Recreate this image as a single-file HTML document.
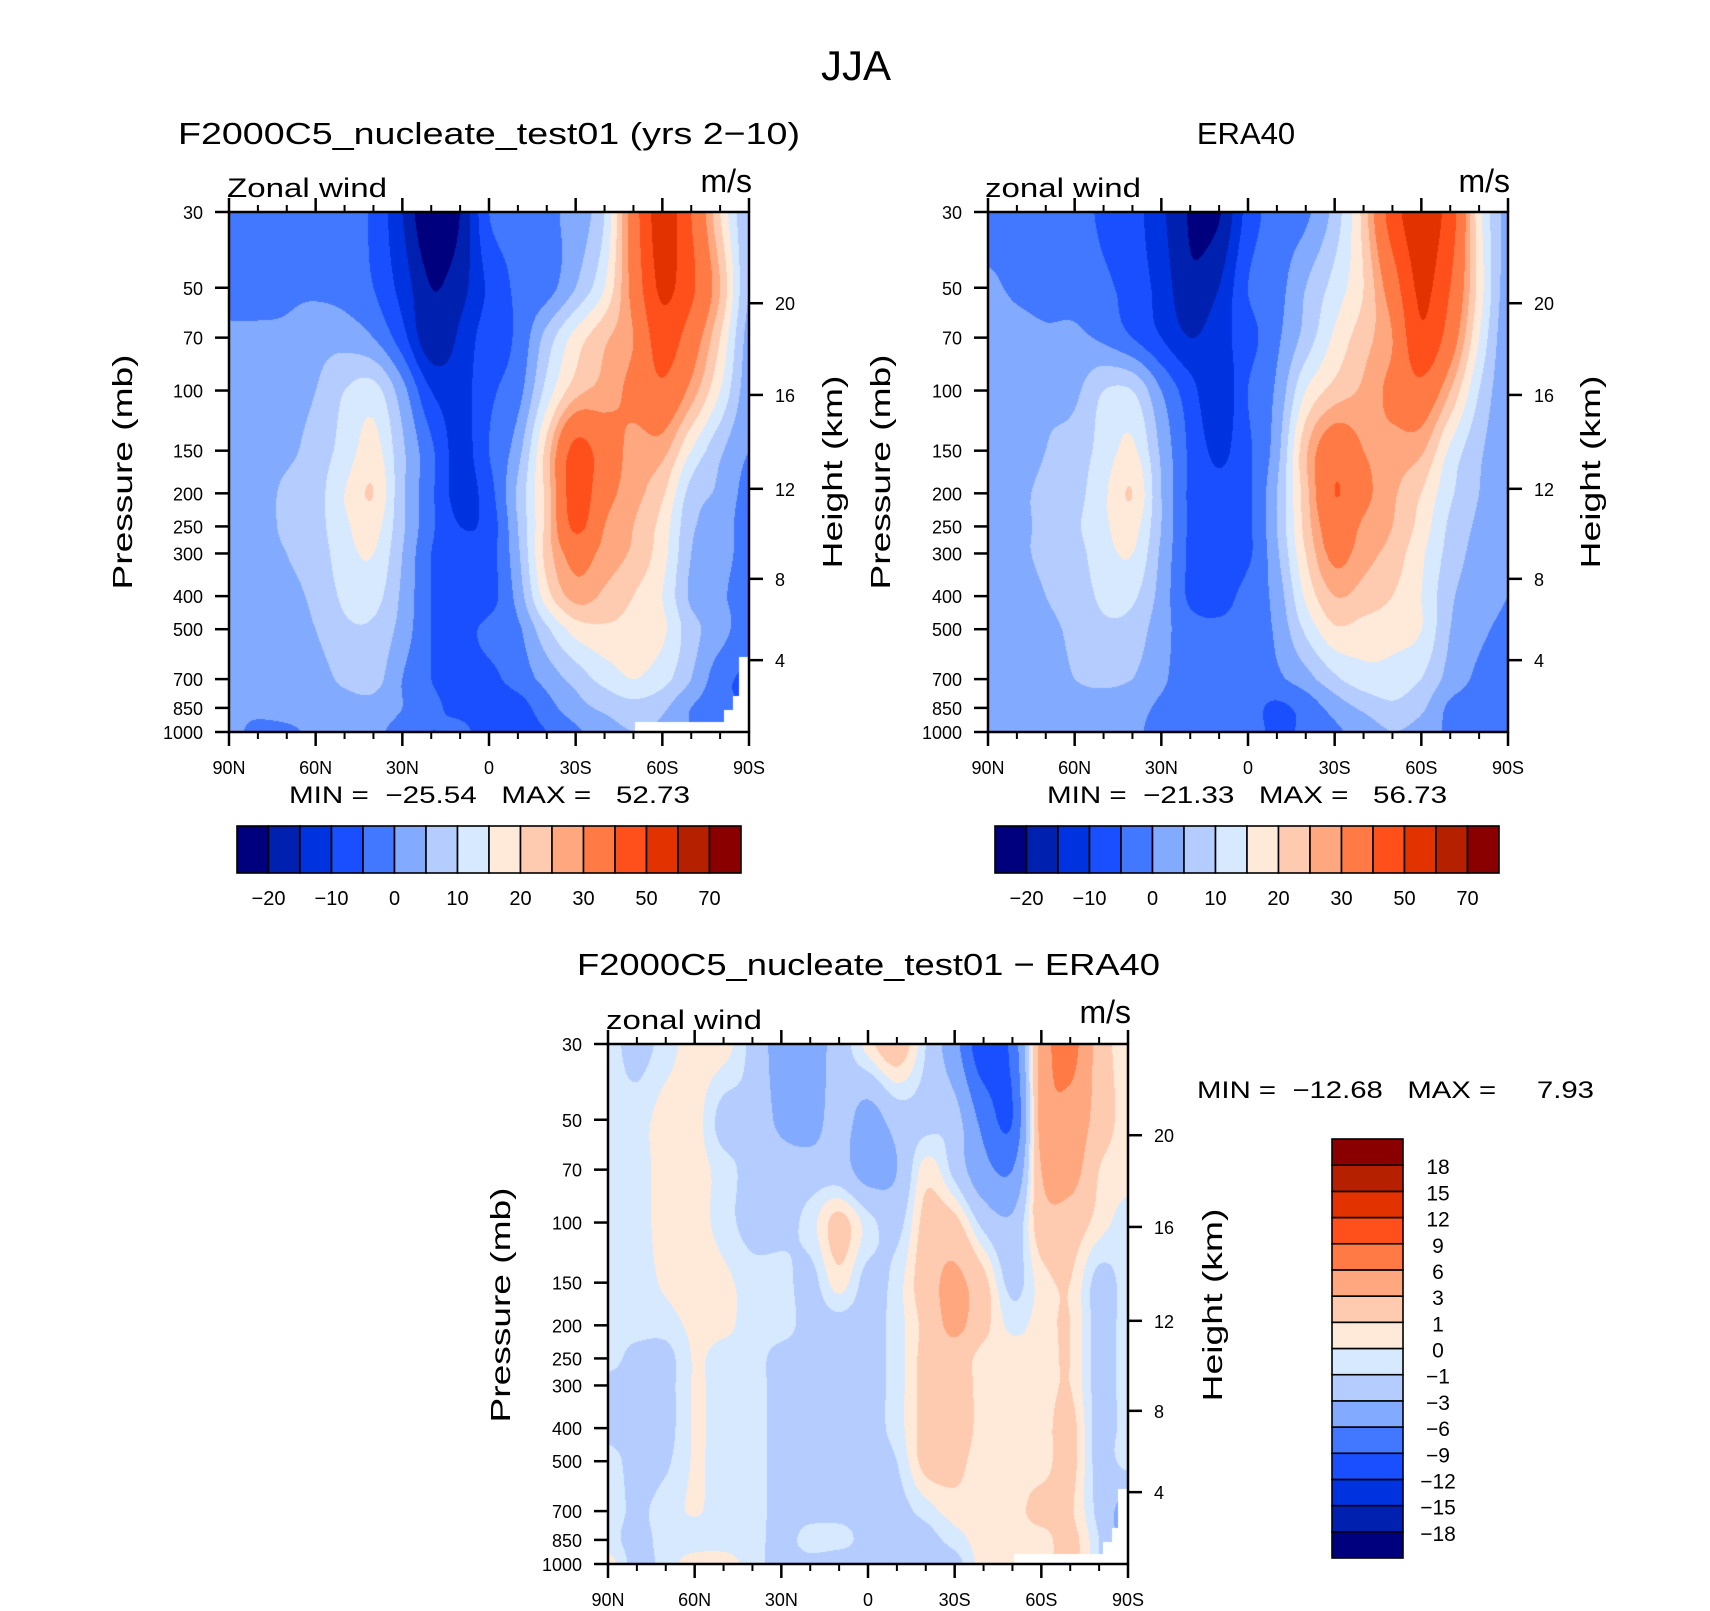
<!DOCTYPE html>
<html><head><meta charset="utf-8">
<style>
html,body{margin:0;padding:0;background:#fff;}
#wrap{position:relative;width:1710px;height:1611px;overflow:hidden;background:#fff;font-family:"Liberation Sans",sans-serif;}
canvas{position:absolute;}
svg{position:absolute;left:0;top:0;}
text{font-family:"Liberation Sans",sans-serif;fill:#000;white-space:pre;}
</style></head>
<body>
<div id="wrap">
<canvas id="c1" width="520" height="520" style="left:229px;top:212px"></canvas>
<canvas id="c2" width="520" height="520" style="left:988px;top:212px"></canvas>
<canvas id="c3" width="520" height="520" style="left:608px;top:1044px"></canvas>
<svg id="ov" width="1710" height="1611">
<text x="856" y="80" font-size="42" text-anchor="middle">JJA</text>
<text x="178" y="144" font-size="31" textLength="622" lengthAdjust="spacingAndGlyphs">F2000C5_nucleate_test01 (yrs 2−10)</text>
<text x="1246" y="144" font-size="31" text-anchor="middle">ERA40</text>
<text x="227" y="197" font-size="27" textLength="160" lengthAdjust="spacingAndGlyphs">Zonal wind</text>
<text x="752" y="192" font-size="32" text-anchor="end">m/s</text>
<text x="985" y="197" font-size="27" textLength="156" lengthAdjust="spacingAndGlyphs">zonal wind</text>
<text x="1510" y="192" font-size="32" text-anchor="end">m/s</text>
<text x="289" y="803" font-size="24" textLength="401" lengthAdjust="spacingAndGlyphs">MIN =  −25.54   MAX =   52.73</text>
<text x="1047" y="803" font-size="24" textLength="400" lengthAdjust="spacingAndGlyphs">MIN =  −21.33   MAX =   56.73</text>
<text x="577" y="975" font-size="31" textLength="583" lengthAdjust="spacingAndGlyphs">F2000C5_nucleate_test01 − ERA40</text>
<text x="606" y="1029" font-size="27" textLength="156" lengthAdjust="spacingAndGlyphs">zonal wind</text>
<text x="1131" y="1023" font-size="32" text-anchor="end">m/s</text>
<text x="1197" y="1098" font-size="24" textLength="397" lengthAdjust="spacingAndGlyphs">MIN =  −12.68   MAX =     7.93</text>
<text font-size="28" text-anchor="middle" transform="translate(132,472) rotate(-90)" textLength="235" lengthAdjust="spacingAndGlyphs">Pressure (mb)</text>
<text font-size="28" text-anchor="middle" transform="translate(842,472) rotate(-90)" textLength="193" lengthAdjust="spacingAndGlyphs">Height (km)</text>
<text font-size="28" text-anchor="middle" transform="translate(890,472) rotate(-90)" textLength="235" lengthAdjust="spacingAndGlyphs">Pressure (mb)</text>
<text font-size="28" text-anchor="middle" transform="translate(1600,472) rotate(-90)" textLength="193" lengthAdjust="spacingAndGlyphs">Height (km)</text>
<text font-size="28" text-anchor="middle" transform="translate(510,1305) rotate(-90)" textLength="235" lengthAdjust="spacingAndGlyphs">Pressure (mb)</text>
<text font-size="28" text-anchor="middle" transform="translate(1222,1305) rotate(-90)" textLength="193" lengthAdjust="spacingAndGlyphs">Height (km)</text>
</svg>
</div>
<script>
// ---------- data ----------
const lats = [90,80,70,60,50,40,30,20,10,0,-10,-20,-30,-40,-50,-60,-70,-80,-90];
const levels = [30,50,70,100,150,200,250,300,400,500,700,850,1000];
const latTickLabels = ["90N","60N","30N","0","30S","60S","90S"];
const latTicks = [90,60,30,0,-30,-60,-90];
const latMinor = [80,70,50,40,20,10,-10,-20,-40,-50,-70,-80];
const pTicks = [30,50,70,100,150,200,250,300,400,500,700,850,1000];
const kmTicks = [4,8,12,16,20];
const kmPressure = [616,356,194,103,55.5];
const modelU = [
[-2,-2,-2,-3,-3,-6,-15,-25,-20,-5,-3,-1,2,10,35,55,40,20,5],
[-2,-2,-1,-1,-2,-5,-12,-20,-17,-9,-4,-2,5,15,33,52,42,25,5],
[1,1,1,3,3,0,-8,-19,-14,-7,-4,7,17,24,30,45,35,20,3],
[2,2,3,5,10,12,2,-10,-12,-6,-2,12,23,27,32,38,28,15,2],
[2,3,4,7,12,17,6,-4,-12,-5,3,22,43,35,28,27,15,6,0],
[2,3,6,8,15,20,6,-4,-12,-7,6,22,45,33,27,21,8,4,-2],
[2,3,6,8,14,17,6,-4,-10,-8,5,22,42,30,25,18,6,3,-3],
[2,3,5,7,13,15,5,-5,-8,-7,4,22,33,28,24,17,5,2,-2],
[2,3,4,6,11,12,4,-5,-7,-7,2,18,27,24,20,15,4,1,-3],
[2,2,3,5,9,9,3,-5,-6,-4,-1,9,17,19,18,16,7,2,-3],
[2,2,2,3,6,7,0,-5,-6,-6,-3,2,7,12,15,12,5,-3,-6],
[1,1,2,3,3,3,0,-4,-6,-7,-7,-2,3,6,8,6,0,-3,-6],
[1,-1,-1,1,1,1,-2,-5,-4,-7,-7,-5,-1,3,5,4,0,-3,-6]
];
const eraU = [
[-3,-3,-3,-3,-6,-8,-14,-20.5,-20.5,-8,-3,-1,7,22,45,56,45,17,3],
[1,-1,-2,-2,-4,-7,-12,-19,-15,-5,-2,5,12,20,35,52,40,18,2],
[2,2,1,1,-1,-5,-10,-15,-12,-7,-1,7,16,23,30,48,35,15,1],
[2,3,4,4,10,10,0,-8,-14,-5,1,15,22,26,32,37,25,10,1],
[2,3,5,7,12,16,4,-6,-11,-6,3,24,36,30,28,26,14,6,1],
[2,4,6,8,14,20,5,-6,-9,-6,5,23,40,32,26,20,11,5,1],
[2,4,6,9,14,17,5,-6,-9,-6,5,22,35,29,25,18,9,4,1],
[2,4,6,8,13,15,4,-6,-9,-6,4,20,32,27,23,16,8,3,0],
[2,3,5,7,11,11,3,-6,-7,-3,2,16,25,23,20,15,6,2,0],
[2,3,4,6,9,8,2,-3,-4,-3,1,11,19,18,17,15,5,1,-1],
[2,2,3,5,6,5,1,-3,-3,-3,-1,3,9,13,13,10,3,-1,-3],
[2,2,2,3,3,2,-1,-3,-2,-3,-6,-3,2,6,9,6,-1,-2,-4],
[1,1,1,1,1,1,-2,-3,-3,-3,-6,-4,-1,2,5,3,-1,-3,-3]
];
const diffU = [
[-0.5,-1.5,-0.5,0.5,0.5,-1.5,-4,-4,-2,0.5,2,-1,-5,-11,-8,4,7,2,0.5],
[-0.5,-0.5,0.5,0.5,-1.5,-1.5,-3.5,-4,-2,-4,-2,-1.5,-2,-7,-9,4,5,2,0.5],
[-0.5,-0.5,0.5,0.5,-0.5,-1.5,-2,-2,-2,-4,-3,0.5,-1.5,-5,-6,3,4,1,0.5],
[-0.5,-0.5,0.5,0.5,-0.5,-1.5,-1.5,-0.5,1.5,-0.5,-1.5,1.5,1.5,-1.5,-2.5,2,2,0.5,-0.5],
[-0.5,-0.5,0.2,0.8,0.3,-0.5,-0.5,-1.5,0.5,-1.5,-0.5,2,3.5,1.5,-1.5,0.5,1,-1.5,-0.5],
[-0.5,-0.5,-0.5,0.3,0.3,-0.5,-0.5,-1.5,-1.5,-1.5,-0.5,1.5,3.5,1.5,-0.3,0.5,1,-1.5,-0.5],
[-0.5,-1.5,-1.5,0.1,-0.5,-0.5,-1.5,-1.5,-1.5,-1.5,-0.5,1.5,2,0.5,0.5,0.5,1,-1.5,-0.5],
[-1.5,-1.5,-1.5,0.1,-0.5,-0.5,-1.5,-1.5,-1.5,-1.5,-0.5,1.5,2,0.5,0.5,0.5,1,-1.5,-0.5],
[-1.5,-1.5,-1.5,0.1,-0.5,-0.5,-1.5,-1.5,-1.5,-1.5,-0.5,1.5,2,0.5,0.5,0.5,1.5,-1.5,-0.5],
[-0.5,-1.5,-1.2,0.1,-0.5,-0.5,-1.5,-1.5,-1.5,-1.5,-1,1.5,1.5,0.3,0.5,0.5,1.5,-1.5,-0.5],
[-0.5,-1.2,-0.5,0.1,-0.5,-0.5,-1.5,-1.5,-1.5,-1.5,-1.5,-0.5,0.5,0.3,0.5,1.5,1.2,-1.5,-4],
[-0.5,-1.5,-0.5,-0.5,-0.5,-0.5,-1.5,-0.5,-0.5,-1.5,-1.5,-1.5,-0.5,0.5,0.5,0.5,1.5,-1,-4],
[0.5,-1.5,-0.5,0.5,0.5,-0.5,-1.5,-1.5,-2,-1.5,-1.5,-1.5,-1.5,0.5,0.5,0.5,1.5,-1,-4]
];
const windLevels = [-20,-15,-10,-5,0,5,10,15,20,25,30,40,50,60,70];
const windLabels = ["−20","−10","0","10","20","30","50","70"];
const diffLevels = [-18,-15,-12,-9,-6,-3,-1,0,1,3,6,9,12,15,18];
const diffLabels = ["−18","−15","−12","−9","−6","−3","−1","0","1","3","6","9","12","15","18"];
const maskLat = [-50.7,-81.5,-84.5,-86.5];
const maskP = [935,860,784,605];
const colors = ["#00007f","#0020b0","#0033e0","#1a4fff","#4277ff","#82aaff","#b4ccff","#d6e9ff","#ffeada","#ffcbb0","#ffa880","#ff7a44","#ff4f1a","#e23200","#b52000","#8a0000"];

// ---------- geometry ----------
const P1 = {x0:229,y0:212,w:520,h:520};
const P2 = {x0:988,y0:212,w:520,h:520};
const P3 = {x0:608,y0:1044,w:520,h:520};
const LNR = Math.log(1000/30);
function xOf(P,lat){return P.x0 + (90-lat)/180*P.w;}
function yOf(P,p){return P.y0 + Math.log(p/30)/LNR*P.h;}
function hex(c){return [parseInt(c.slice(1,3),16),parseInt(c.slice(3,5),16),parseInt(c.slice(5,7),16)];}
const rgb = colors.map(hex);

function cr(p0,p1,p2,p3,t){
  return 0.5*((2*p1)+(-p0+p2)*t+(2*p0-5*p1+4*p2-p3)*t*t+(-p0+3*p1-3*p2+p3)*t*t*t);
}
function g(field,r,c){r=Math.max(0,Math.min(field.length-1,r));c=Math.max(0,Math.min(18,c));return field[r][c];}
function sample(field,lat,p){
  let fc=(90-lat)/10; let c0=Math.min(17,Math.floor(fc)); let tc=fc-c0;
  let lp=Math.log(p); let r0=0;
  for(let k=0;k<levels.length-1;k++){ if(p>=levels[k]) r0=k; }
  if(r0>levels.length-2) r0=levels.length-2;
  let tr=(lp-Math.log(levels[r0]))/(Math.log(levels[r0+1])-Math.log(levels[r0]));
  tr=Math.max(0,Math.min(1,tr));
  const rows=[];
  for(let dr=-1;dr<=2;dr++){
    const r=r0+dr;
    rows.push(cr(g(field,r,c0-1),g(field,r,c0),g(field,r,c0+1),g(field,r,c0+2),tc));
  }
  return cr(rows[0],rows[1],rows[2],rows[3],tr);
}
function masked(lat,p){
  for(let k=maskLat.length-1;k>=0;k--){ if(lat<=maskLat[k] && p>=maskP[k]) return true; }
  return false;
}
function render(id,P,field,lv,useMask){
  const cv=document.getElementById(id); const ctx=cv.getContext('2d');
  const img=ctx.createImageData(P.w,P.h);
  for(let j=0;j<P.h;j++){
    const p=30*Math.exp((j+0.5)/P.h*LNR);
    for(let i=0;i<P.w;i++){
      const lat=90-(i+0.5)/P.w*180;
      let col;
      if(useMask && masked(lat,p)) col=[255,255,255];
      else{ const v=sample(field,lat,p); let idx=0; for(let k=0;k<lv.length;k++){ if(v>=lv[k]) idx=k+1; } col=rgb[idx]; }
      const o=(j*P.w+i)*4; img.data[o]=col[0];img.data[o+1]=col[1];img.data[o+2]=col[2];img.data[o+3]=255;
    }
  }
  ctx.putImageData(img,0,0);
}
render('c1',P1,modelU,windLevels,true);
render('c2',P2,eraU,windLevels,false);
render('c3',P3,diffU,diffLevels,true);

// ---------- axes ----------
const NS="http://www.w3.org/2000/svg";
const ov=document.getElementById('ov');
function line(x1,y1,x2,y2,w){const l=document.createElementNS(NS,'line');l.setAttribute('x1',x1);l.setAttribute('y1',y1);l.setAttribute('x2',x2);l.setAttribute('y2',y2);l.setAttribute('stroke','#000');l.setAttribute('stroke-width',w);ov.appendChild(l);return l;}
function txt(x,y,s,size,anchor){const t=document.createElementNS(NS,'text');t.setAttribute('x',x);t.setAttribute('y',y);t.setAttribute('font-size',size);t.setAttribute('text-anchor',anchor);t.textContent=s;ov.appendChild(t);return t;}
function axes(P,tag){
  const fr=document.createElementNS(NS,'rect');
  fr.setAttribute('x',P.x0);fr.setAttribute('y',P.y0);fr.setAttribute('width',P.w);fr.setAttribute('height',P.h);
  fr.setAttribute('fill','none');fr.setAttribute('stroke','#000');fr.setAttribute('stroke-width','2.5');
  
  
  ov.appendChild(fr);
  const yb=P.y0+P.h;
  latTicks.forEach((lat,k)=>{
    const x=xOf(P,lat);
    const a=line(x,yb,x,yb+14,2.5);
    
    
    const b=line(x,P.y0,x,P.y0-14,2.5);
    
    
    const t=txt(x,yb+42,latTickLabels[k],18,'middle');
    
    
  });
  latMinor.forEach(lat=>{
    const x=xOf(P,lat);
    const a=line(x,yb,x,yb+7,2);
    
    
    const b=line(x,P.y0,x,P.y0-7,2);
    
    
  });
  pTicks.forEach(p=>{
    const y=yOf(P,p);
    const a=line(P.x0,y,P.x0-14,y,2.5);
    
    
    const t=txt(P.x0-26,y+7,String(p),18,'end');
    
    
  });
  kmTicks.forEach((km,k)=>{
    const y=yOf(P,kmPressure[k]);
    const a=line(P.x0+P.w,y,P.x0+P.w+14,y,2.5);
    
    
    const t=txt(P.x0+P.w+26,y+7,String(km),18,'start');
    
    
  });
}
axes(P1,'model');axes(P2,'era40');axes(P3,'diff');

// ---------- colorbars ----------
function hbar(x0,x1,y0,y1,tag){
  const bw=(x1-x0)/colors.length;
  colors.forEach((c,k)=>{
    const r=document.createElementNS(NS,'rect');
    r.setAttribute('x',x0+k*bw);r.setAttribute('y',y0);r.setAttribute('width',bw);r.setAttribute('height',y1-y0);
    r.setAttribute('fill',c);r.setAttribute('stroke','#000');r.setAttribute('stroke-width','1.6');
    
    
    ov.appendChild(r);
  });
  windLabels.forEach((s,k)=>{
    const t=txt(x0+(2*k+1)*bw,y1+32,s,20,'middle');
    
    
  });
}
hbar(237,741,826,873,'model');
hbar(995,1499,826,873,'era40');
(function(){
  const x0=1332,x1=1403,y0=1139,y1=1558; const bh=(y1-y0)/colors.length;
  colors.forEach((c,k)=>{
    const r=document.createElementNS(NS,'rect');
    r.setAttribute('x',x0);r.setAttribute('y',y1-(k+1)*bh);r.setAttribute('width',x1-x0);r.setAttribute('height',bh);
    r.setAttribute('fill',c);r.setAttribute('stroke','#000');r.setAttribute('stroke-width','1.6');
    
    
    ov.appendChild(r);
  });
  diffLabels.forEach((s,k)=>{
    const y=y1-(k+1)*bh;
    const t=txt(1438,y+9,s,21,'middle');
    
    
  });
})();
</script>
</body></html>
